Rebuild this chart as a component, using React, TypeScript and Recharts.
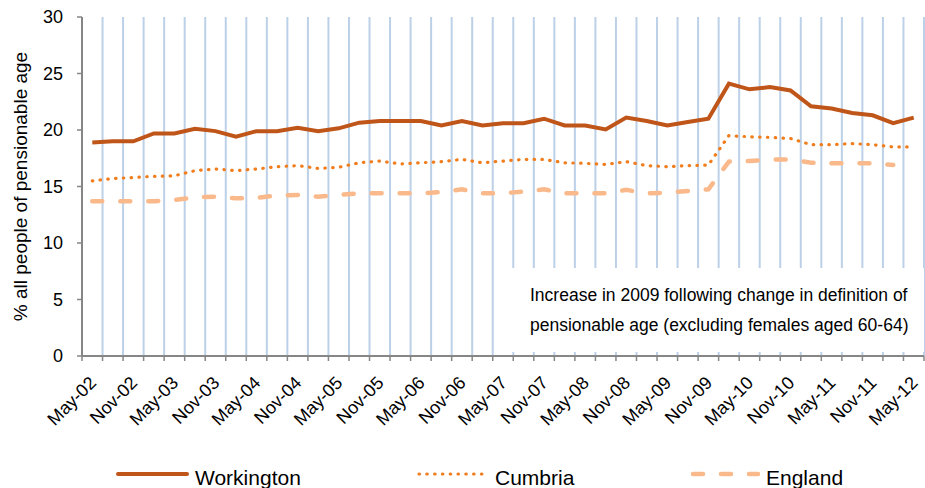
import { LineChart, Line, XAxis, YAxis, CartesianGrid } from "recharts";

const FONT = "'Liberation Sans', Arial, sans-serif";

// quarterly periods, May-02 .. May-12
const periods = [
  "May-02", "Aug-02", "Nov-02",
  "Feb-03", "May-03", "Aug-03", "Nov-03",
  "Feb-04", "May-04", "Aug-04", "Nov-04",
  "Feb-05", "May-05", "Aug-05", "Nov-05",
  "Feb-06", "May-06", "Aug-06", "Nov-06",
  "Feb-07", "May-07", "Aug-07", "Nov-07",
  "Feb-08", "May-08", "Aug-08", "Nov-08",
  "Feb-09", "May-09", "Aug-09", "Nov-09",
  "Feb-10", "May-10", "Aug-10", "Nov-10",
  "Feb-11", "May-11", "Aug-11", "Nov-11",
  "Feb-12", "May-12",
];

const workington = [
  18.9, 19.0, 19.0, 19.7, 19.7, 20.1, 19.9, 19.4, 19.9, 19.9,
  20.2, 19.9, 20.15, 20.65, 20.8, 20.8, 20.8, 20.4, 20.8, 20.4,
  20.6, 20.6, 21.0, 20.4, 20.4, 20.05, 21.1, 20.8, 20.4, 20.7,
  21.0, 24.1, 23.6, 23.8, 23.5, 22.1, 21.9, 21.5, 21.3, 20.6, 21.1,
];

const cumbria = [
  15.5, 15.7, 15.8, 15.9, 15.95, 16.4, 16.55, 16.4, 16.55, 16.75,
  16.85, 16.6, 16.7, 17.1, 17.25, 17.0, 17.1, 17.2, 17.4, 17.1,
  17.25, 17.4, 17.4, 17.1, 17.05, 16.95, 17.2, 16.85, 16.75, 16.85,
  16.9, 19.5, 19.4, 19.35, 19.25, 18.7, 18.7, 18.8, 18.7, 18.5, 18.5,
];

const england: (number | null)[] = [
  13.7, 13.7, 13.7, 13.7, 13.8, 14.05, 14.1, 13.95, 14.0, 14.2,
  14.25, 14.1, 14.25, 14.4, 14.4, 14.4, 14.4, 14.5, 14.75, 14.4,
  14.4, 14.55, 14.75, 14.4, 14.4, 14.4, 14.7, 14.4, 14.45, 14.6,
  14.75, 17.2, 17.25, 17.4, 17.4, 17.1, 17.05, 17.05, 17.05, 16.9, null,
];

const yTicks = [0, 5, 10, 15, 20, 25, 30];

const data = periods.map((p, i) => ({
  idx: i,
  period: p,
  Workington: workington[i],
  Cumbria: cumbria[i],
  England: england[i],
}));

// band edges for gridlines / tick marks, labels every half year
const edges = periods.map((_, i) => i - 0.5).concat(periods.length - 0.5);
const labelTicks = periods.map((_, i) => i).filter((i) => i % 2 === 0);

const C_WORK = "#bf5519";
const C_CUMB = "#f07d1e";
const C_ENG = "#f9b98b";

function XTick(props: any) {
  const { x, y, payload } = props;
  return (
    <g transform={`translate(${x + 5},${y + 28})`}>
      <text transform="rotate(-45)" textAnchor="end" fontSize={18} fill="#000" fontFamily={FONT}>
        {periods[payload.value]}
      </text>
    </g>
  );
}

function NoTick() {
  return null;
}

function YLabel(props: any) {
  const { viewBox } = props;
  const cy = viewBox.y + viewBox.height / 2;
  return (
    <text
      x={27}
      y={cy}
      transform={`rotate(-90 27 ${cy})`}
      textAnchor="middle"
      fontSize={19}
      fill="#000"
      fontFamily={FONT}
    >
      % all people of pensionable age
    </text>
  );
}

export default function App() {
  return (
    <div style={{ position: "absolute", left: 0, top: 0, width: 925, height: 488, background: "#fff", fontFamily: FONT }}>
      <LineChart width={925} height={488} data={data} margin={{ top: 17, right: 1, bottom: 0, left: 0 }}>
        <CartesianGrid xAxisId="grid" horizontal={false} stroke="#bcd0e8" strokeWidth={2} />
        <XAxis
          xAxisId="grid"
          type="number"
          dataKey="idx"
          domain={[-0.5, periods.length - 0.5]}
          allowDataOverflow
          ticks={edges}
          interval={0}
          tick={<NoTick />}
          tickSize={5}
          tickLine={{ stroke: "#868686", strokeWidth: 1.5 }}
          axisLine={{ stroke: "#868686", strokeWidth: 2 }}
          height={132}
        />
        <XAxis
          xAxisId="lbl"
          type="number"
          dataKey="idx"
          domain={[-0.5, periods.length - 0.5]}
          allowDataOverflow
          ticks={labelTicks}
          interval={0}
          mirror
          axisLine={false}
          tickLine={false}
          tickSize={0}
          tickMargin={0}
          tick={<XTick />}
        />
        <YAxis
          domain={[0, 30]}
          ticks={yTicks}
          interval={0}
          width={82}
          tickSize={5}
          tickMargin={14}
          axisLine={{ stroke: "#868686", strokeWidth: 2 }}
          tickLine={{ stroke: "#868686", strokeWidth: 1.5 }}
          tick={{ fill: "#000", fontSize: 18, fontFamily: FONT }}
          label={{ content: YLabel }}
        />
        <Line
          xAxisId="lbl"
          dataKey="England"
          stroke={C_ENG}
          strokeWidth={4.5}
          strokeDasharray="10 18"
          strokeLinecap="round"
          dot={false}
          isAnimationActive={false}
        />
        <Line
          xAxisId="lbl"
          dataKey="Cumbria"
          stroke={C_CUMB}
          strokeWidth={3.2}
          strokeDasharray="0.5 7.3"
          strokeLinecap="round"
          dot={false}
          isAnimationActive={false}
        />
        <Line
          xAxisId="lbl"
          dataKey="Workington"
          stroke={C_WORK}
          strokeWidth={4}
          dot={false}
          isAnimationActive={false}
        />
      </LineChart>

      <div
        style={{
          position: "absolute",
          left: 510,
          top: 268,
          width: 414,
          height: 84,
          background: "#fff",
          boxSizing: "border-box",
          paddingLeft: 20,
          paddingTop: 12,
          fontSize: 17.5,
          lineHeight: "30px",
          color: "#000",
          whiteSpace: "nowrap",
        }}
      >
        Increase in 2009 following change in definition of
        <br />
        pensionable age (excluding females aged 60-64)
      </div>

      <svg style={{ position: "absolute", left: 0, top: 448 }} width={925} height={40}>
        <line x1={118} x2={187} y1={26} y2={26} stroke={C_WORK} strokeWidth={4} strokeLinecap="round" />
        <text x={195} y={37} fontSize={21} fill="#000" fontFamily={FONT}>Workington</text>
        <line x1={419} x2={487} y1={26} y2={26} stroke={C_CUMB} strokeWidth={3.2} strokeDasharray="0.5 7.3" strokeLinecap="round" />
        <text x={495} y={37} fontSize={21} fill="#000" fontFamily={FONT}>Cumbria</text>
        <line x1={693} x2={758} y1={26} y2={26} stroke={C_ENG} strokeWidth={4.5} strokeDasharray="10 18" strokeLinecap="round" />
        <text x={766} y={37} fontSize={21} fill="#000" fontFamily={FONT}>England</text>
      </svg>
    </div>
  );
}
